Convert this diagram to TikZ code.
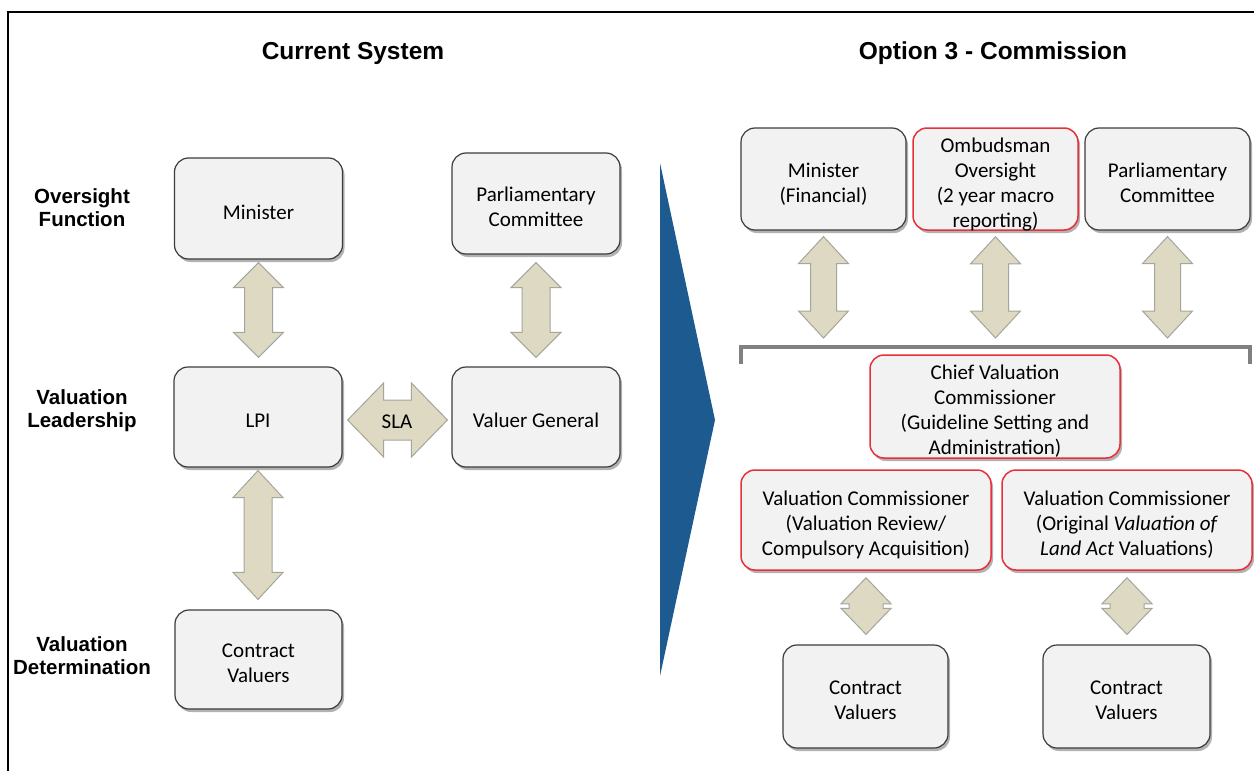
\documentclass[tikz,border=0pt]{standalone}
\usepackage{fontspec}
\setmainfont{Carlito}
\newfontfamily\headfont{Liberation Sans}
\usetikzlibrary{calc,shadows}
\definecolor{boxfill}{RGB}{242,242,242}
\definecolor{boxdraw}{RGB}{60,60,60}
\definecolor{redline}{RGB}{232,48,56}
\definecolor{arrfill}{RGB}{221,217,195}
\definecolor{arrdraw}{RGB}{165,165,155}
\definecolor{tri}{RGB}{29,90,143}
\definecolor{brk}{RGB}{128,128,128}
\newsavebox\btbox
\newcommand\btxt[1]{\sbox\btbox{\begin{tabular}{@{}c@{}}#1\end{tabular}}%
  \ht\btbox=\dimexpr\ht\btbox+4pt\relax \dp\btbox=\dimexpr\dp\btbox-7pt\relax \usebox\btbox}
\tikzset{
 box/.style={rounded corners=14pt, draw=boxdraw, fill=boxfill, line width=1.2pt, inner sep=1pt,
   font=\fontsize{21}{25}\selectfont,
   drop shadow={shadow xshift=2pt, shadow yshift=-3pt, opacity=0.3, fill=black}},
 redbox/.style={box, draw=redline, line width=1.5pt},
 dblarrow/.style={fill=arrfill, draw=arrdraw, line width=1pt, line join=miter},
 rowlabel/.style={align=center, font=\headfont\bfseries\fontsize{20.5}{23}\selectfont},
 titletext/.style={font=\headfont\bfseries\fontsize{24.5}{28}\selectfont},
 smalltext/.style={font=\fontsize{21}{25}\selectfont},
}
% vertical double block arrow: #1 top, #2 bottom, #3 half head width, #4 half shaft width, #5 head length
\newcommand\vdbl[5]{%
 \draw[dblarrow] let \p1=(#1), \p2=(#2) in
  (\x1,\y1) -- (\x1+#3,\y1-#5) -- (\x1+#4,\y1-#5) -- (\x1+#4,\y2+#5) -- (\x1+#3,\y2+#5) -- (\x1,\y2)
  -- (\x1-#3,\y2+#5) -- (\x1-#4,\y2+#5) -- (\x1-#4,\y1-#5) -- (\x1-#3,\y1-#5) -- cycle;}
% horizontal double block arrow: #1 left, #2 right
\newcommand\hdbl[5]{%
 \draw[dblarrow] let \p1=(#1), \p2=(#2) in
  (\x1,\y1) -- (\x1+#5,\y1+#3) -- (\x1+#5,\y1+#4) -- (\x2-#5,\y1+#4) -- (\x2-#5,\y1+#3) -- (\x2,\y1)
  -- (\x2-#5,\y1-#3) -- (\x2-#5,\y1-#4) -- (\x1+#5,\y1-#4) -- (\x1+#5,\y1-#3) -- cycle;}
\begin{document}
\begin{tikzpicture}[x=1pt,y=-1pt]
\useasboundingbox (0,0) rectangle (1254,771);
\fill[white] (0,0) rectangle (1254,771);
% frame
\draw[line width=2pt] (8,771) -- (8,12) -- (1254,12);

% titles
\node[titletext] (t1) at (353,53) {Current System};
\node[titletext] (t2) at (993,53) {Option 3 - Commission};

% row labels
\node[rowlabel] (r1) at (82,208) {Oversight\\Function};
\node[rowlabel] (r2) at (82,411) {Valuation\\Leadership};
\node[rowlabel] (r3) at (82,656) {Valuation\\Determination};

% left boxes
\node[box, minimum width=168pt, minimum height=101pt] (min) at (258.5,208.5) {\btxt{Minister}};
\node[box, minimum width=168pt, minimum height=101pt] (parl) at (536,203.5) {\btxt{Parliamentary\\Committee}};
\node[box, minimum width=168pt, minimum height=100pt] (lpi) at (258,417) {\btxt{LPI}};
\node[box, minimum width=168pt, minimum height=100pt] (vg) at (536,417) {\btxt{Valuer General}};
\node[box, minimum width=167pt, minimum height=99pt] (cv) at (258.5,659.5) {\btxt{Contract\\Valuers}};

% left arrows
\vdbl{$(min.south)+(0,3)$}{$(lpi.north)+(0,-9)$}{25pt}{14pt}{25pt}
\vdbl{$(lpi.south)+(0,3)$}{$(cv.north)+(0,-10)$}{25pt}{14pt}{27pt}
\vdbl{$(parl.south)+(0,8)$}{$(vg.north)+(0,-9)$}{25pt}{14pt}{25pt}
\hdbl{$(lpi.east)+(5,3)$}{$(vg.west)+(-4,3)$}{37pt}{20pt}{36pt}
\node[smalltext] (sla) at ($(lpi.east)!0.5!(vg.west)+(0,5)$) {SLA};

% blue triangle
\fill[tri] (660,163) -- (715,420) -- (660,676) -- cycle;

% right top boxes
\node[box, minimum width=165pt, minimum height=102pt] (minf) at (823.5,179) {\btxt{Minister\\(Financial)}};
\node[redbox, minimum width=165pt, minimum height=102pt] (omb) at (995.5,179) {\btxt{Ombudsman\\Oversight\\(2 year macro\\reporting)}};
\node[box, minimum width=165pt, minimum height=102pt] (parl2) at (1167.5,179) {\btxt{Parliamentary\\Committee}};

% bracket
\draw[brk, line width=3.5pt] (741,364) -- (741,347) -- (1250,347) -- (1250,364);
\coordinate (b1) at (823.5,338);
\coordinate (b2) at (995.5,338);
\coordinate (b3) at (1167.5,338);
\vdbl{$(minf.south)+(0,6)$}{b1}{25pt}{13pt}{27pt}
\vdbl{$(omb.south)+(0,6)$}{b2}{25pt}{13pt}{27pt}
\vdbl{$(parl2.south)+(0,6)$}{b3}{25pt}{13pt}{27pt}

% commissioners
\node[redbox, minimum width=250pt, minimum height=103pt] (chief) at (995,406.5) {\btxt{Chief Valuation\\Commissioner\\(Guideline Setting and\\Administration)}};
\node[redbox, minimum width=250pt, minimum height=100pt] (vc1) at (866,520) {\btxt{Valuation Commissioner\\(Valuation Review/\\Compulsory Acquisition)}};
\node[redbox, minimum width=250pt, minimum height=100pt] (vc2) at (1127,520) {\btxt{Valuation Commissioner\\(Original \textit{Valuation of}\\\textit{Land Act} Valuations)}};

% contract valuers right
\node[box, minimum width=165pt, minimum height=103pt] (cv1) at (865.5,696.5) {\btxt{Contract\\Valuers}};
\node[box, minimum width=167pt, minimum height=103pt] (cv2) at (1126.5,696.5) {\btxt{Contract\\Valuers}};

% small diamond arrows
\vdbl{$(vc1.south)+(0,7)$}{$(cv1.north)+(0,-10)$}{25pt}{17pt}{26pt}
\vdbl{$(vc2.south)+(0,7)$}{$(cv2.north)+(0,-10)$}{25pt}{17pt}{26pt}
\end{tikzpicture}
\end{document}
